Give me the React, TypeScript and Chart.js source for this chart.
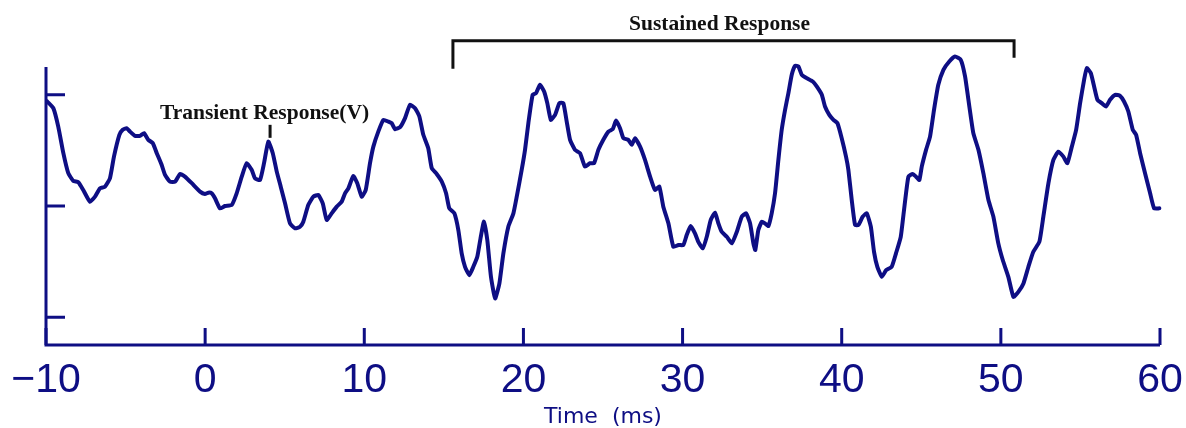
import React, { useEffect, useRef } from "react";
import { Chart, registerables } from "chart.js";

Chart.register(...registerables);

// Evoked response waveform: time in ms, amplitude in arbitrary units
const timeMs = [
  -9.92, -9.54, -9.23, -8.91, -8.6, -8.28, -7.97, -7.66, -7.24, -6.92, -6.61, -6.29, -5.98, -5.73, -5.39,
  -5.18, -4.93, -4.72, -4.41, -4.09, -3.84, -3.57, -3.29, -3.04, -2.73, -2.52, -2.21, -1.89, -1.58, -1.27,
  -0.84, -0.32, -0.01, 0.2, 0.41, 0.62, 0.93, 1.25, 1.67, 1.98, 2.3, 2.61, 2.93, 3.13, 3.45,
  3.7, 3.97, 4.25, 4.5, 4.75, 5.02, 5.33, 5.65, 5.96, 6.17, 6.48, 6.8, 7.11, 7.39, 7.64,
  7.95, 8.27, 8.58, 8.79, 9.0, 9.31, 9.56, 9.84, 10.09, 10.36, 10.57, 10.88, 11.2, 11.51, 11.72,
  11.93, 12.25, 12.56, 12.87, 13.19, 13.46, 13.71, 14.02, 14.24, 14.55, 14.87, 15.14, 15.34, 15.66, 15.91,
  16.12, 16.33, 16.6, 16.85, 17.1, 17.32, 17.52, 17.73, 17.96, 18.22, 18.49, 18.74, 19.05, 19.37, 19.58,
  19.89, 20.1, 20.31, 20.58, 20.79, 21.04, 21.3, 21.5, 21.72, 21.99, 22.26, 22.51, 22.72, 22.93, 23.24,
  23.56, 23.87, 24.19, 24.44, 24.71, 25.02, 25.34, 25.61, 25.82, 26.07, 26.28, 26.59, 26.81, 27.01, 27.33,
  27.64, 27.96, 28.27, 28.54, 28.79, 29.11, 29.42, 29.74, 30.05, 30.26, 30.51, 30.78, 30.99, 31.27, 31.52,
  31.77, 32.04, 32.25, 32.46, 32.78, 33.09, 33.41, 33.72, 33.99, 34.24, 34.45, 34.57, 34.76, 34.98, 35.18,
  35.39, 35.6, 35.81, 36.02, 36.23, 36.44, 36.65, 36.86, 37.07, 37.28, 37.49, 37.8, 38.18, 38.43, 38.75,
  38.95, 39.22, 39.48, 39.73, 40.0, 40.27, 40.42, 40.63, 40.84, 41.05, 41.32, 41.57, 41.83, 42.03, 42.24,
  42.52, 42.79, 43.14, 43.41, 43.71, 43.94, 44.19, 44.46, 44.67, 44.88, 45.03, 45.3, 45.55, 45.8, 46.07,
  46.39, 46.76, 47.12, 47.48, 47.75, 48.02, 48.27, 48.59, 48.9, 49.22, 49.53, 49.84, 50.12, 50.47, 50.79,
  51.1, 51.42, 51.73, 52.04, 52.42, 52.67, 52.99, 53.3, 53.61, 53.93, 54.18, 54.46, 54.73, 54.98, 55.23,
  55.4, 55.65, 55.86, 56.07, 56.34, 56.61, 56.86, 57.18, 57.49, 57.74, 58.01, 58.29, 58.5, 58.75, 59.06,
  59.38, 59.63, 59.96,
];

const amplitude = [
  0.94, 0.88, 0.714, 0.475, 0.295, 0.225, 0.214, 0.144, 0.039, 0.084, 0.159, 0.174, 0.25, 0.444, 0.64,
  0.685, 0.7, 0.669, 0.631, 0.631, 0.655, 0.595, 0.565, 0.475, 0.369, 0.279, 0.219, 0.219, 0.288, 0.264,
  0.205, 0.129, 0.108, 0.12, 0.114, 0.069, -0.021, 0.0, 0.009, 0.114, 0.264, 0.385, 0.324, 0.25, 0.234,
  0.385, 0.579, 0.475, 0.309, 0.174, 0.024, -0.156, -0.201, -0.186, -0.141, 0.009, 0.084, 0.099, 0.024, -0.126,
  -0.066, -0.006, 0.039, 0.114, 0.159, 0.27, 0.205, 0.084, 0.144, 0.385, 0.534, 0.669, 0.775, 0.759, 0.745,
  0.691, 0.709, 0.79, 0.91, 0.88, 0.805, 0.64, 0.52, 0.34, 0.288, 0.219, 0.114, -0.021, -0.066, -0.216,
  -0.426, -0.547, -0.622, -0.547, -0.457, -0.277, -0.141, -0.306, -0.637, -0.832, -0.696, -0.426, -0.186, -0.066, 0.084,
  0.324, 0.505, 0.745, 1.0, 1.015, 1.09, 1.03, 0.925, 0.775, 0.82, 0.925, 0.925, 0.759, 0.595, 0.505,
  0.475, 0.354, 0.385, 0.385, 0.505, 0.595, 0.669, 0.691, 0.768, 0.7, 0.61, 0.595, 0.55, 0.61, 0.534,
  0.414, 0.264, 0.144, 0.174, -0.006, -0.156, -0.367, -0.351, -0.351, -0.261, -0.18, -0.246, -0.322, -0.381, -0.277,
  -0.126, -0.06, -0.156, -0.232, -0.277, -0.336, -0.232, -0.096, -0.066, -0.156, -0.336, -0.396, -0.216, -0.141, -0.156,
  -0.18, -0.066, 0.114, 0.414, 0.685, 0.865, 1.015, 1.18, 1.261, 1.255, 1.18, 1.15, 1.12, 1.075, 1.0,
  0.895, 0.82, 0.775, 0.745, 0.61, 0.444, 0.324, 0.054, -0.171, -0.171, -0.096, -0.066, -0.186, -0.412, -0.547,
  -0.637, -0.577, -0.547, -0.426, -0.277, -0.006, 0.264, 0.288, 0.264, 0.234, 0.354, 0.505, 0.624, 0.865, 1.09,
  1.225, 1.3, 1.345, 1.315, 1.165, 0.895, 0.655, 0.505, 0.295, 0.054, -0.096, -0.336, -0.486, -0.637, -0.817,
  -0.772, -0.696, -0.547, -0.412, -0.322, -0.096, 0.205, 0.414, 0.489, 0.444, 0.385, 0.534, 0.685, 0.925, 1.135,
  1.24, 1.195, 1.075, 0.955, 0.925, 0.895, 0.955, 1.0, 0.991, 0.94, 0.85, 0.685, 0.64, 0.475, 0.295,
  0.114, -0.021, -0.021,
];

const xTicks = [-10, 0, 10, 20, 30, 40, 50, 60];
const yTicks = [-1, 0, 1];
const xTitle = "Time  (ms)";

// Annotations (positions in data units)
const transientLabel = "Transient Response(V)";
const transientLabelAt = { t: 3.73, v: 0.784 };
const transientMarker = { t: 4.08, from: 0.73, to: 0.613 };
const sustainedLabel = "Sustained Response";
const sustainedLabelAt = { t: 32.32, v: 1.586 };
const sustainedBracket = { start: 15.57, end: 50.83, top: 1.486, leftFoot: 1.234, rightFoot: 1.333 };

const NAVY = "#0e0e84";

const fmtTick = (v: number) => (v < 0 ? "\u2212" + Math.abs(v) : String(v));

const axesPlugin = {
  id: "scopeAxes",
  beforeDatasetsDraw(chart: any) {
    const { ctx, chartArea, scales } = chart;
    const { left, right, top, bottom } = chartArea;
    ctx.save();
    ctx.strokeStyle = NAVY;
    ctx.lineWidth = 3;
    ctx.lineCap = "butt";
    // axis lines
    ctx.beginPath();
    ctx.moveTo(left, top);
    ctx.lineTo(left, bottom);
    ctx.lineTo(right, bottom);
    ctx.stroke();
    // inward ticks
    ctx.beginPath();
    for (const t of xTicks) {
      const x = scales.x.getPixelForValue(t);
      ctx.moveTo(x, bottom);
      ctx.lineTo(x, bottom - 17);
    }
    for (const v of yTicks) {
      const y = scales.y.getPixelForValue(v);
      ctx.moveTo(left, y);
      ctx.lineTo(left + 19, y);
    }
    ctx.stroke();
    // tick labels
    ctx.fillStyle = NAVY;
    ctx.font = '41px "Liberation Sans Narrow", "Liberation Sans", Arial, sans-serif';
    ctx.textAlign = "center";
    ctx.textBaseline = "alphabetic";
    for (const t of xTicks) {
      ctx.fillText(fmtTick(t), scales.x.getPixelForValue(t), bottom + 47);
    }
    // axis title
    ctx.font = '22px "DejaVu Sans", sans-serif';
    ctx.fillText(xTitle, (left + right) / 2, bottom + 78);
    ctx.restore();
  },
  afterDatasetsDraw(chart: any) {
    const { ctx, scales } = chart;
    const X = (t: number) => scales.x.getPixelForValue(t);
    const Y = (v: number) => scales.y.getPixelForValue(v);
    ctx.save();
    ctx.fillStyle = "#111";
    ctx.strokeStyle = "#111";
    ctx.textAlign = "center";
    ctx.textBaseline = "alphabetic";
    ctx.font = 'bold 21.5px "Liberation Serif", "Times New Roman", serif';
    ctx.fillText(transientLabel, X(transientLabelAt.t), Y(transientLabelAt.v));
    ctx.fillText(sustainedLabel, X(sustainedLabelAt.t), Y(sustainedLabelAt.v));
    ctx.lineWidth = 3;
    ctx.beginPath();
    ctx.moveTo(X(transientMarker.t), Y(transientMarker.from));
    ctx.lineTo(X(transientMarker.t), Y(transientMarker.to));
    ctx.stroke();
    const b = sustainedBracket;
    ctx.lineJoin = "miter";
    ctx.beginPath();
    ctx.moveTo(X(b.start), Y(b.leftFoot));
    ctx.lineTo(X(b.start), Y(b.top));
    ctx.lineTo(X(b.end), Y(b.top));
    ctx.lineTo(X(b.end), Y(b.rightFoot));
    ctx.stroke();
    ctx.restore();
  },
};

export default function App() {
  const canvasRef = useRef<HTMLCanvasElement | null>(null);

  useEffect(() => {
    if (!canvasRef.current) return;
    const points = timeMs.map((t, i) => ({ x: t, y: amplitude[i] }));
    const chart = new Chart(canvasRef.current, {
      type: "line",
      data: {
        datasets: [
          {
            data: points,
            borderColor: NAVY,
            borderWidth: 4,
            pointRadius: 0,
            tension: 0.15,
            fill: false,
            clip: false as any,
            borderJoinStyle: "round",
            borderCapStyle: "round",
          },
        ],
      },
      options: {
        animation: false,
        responsive: false,
        events: [],
        layout: { padding: { left: 46, top: 67, right: 26, bottom: 83 } },
        scales: {
          x: { type: "linear", min: -10, max: 60, display: false },
          y: { type: "linear", min: -1.25, max: 1.25, display: false },
        },
        plugins: { legend: { display: false }, tooltip: { enabled: false } },
      },
      plugins: [axesPlugin],
    });
    return () => chart.destroy();
  }, []);

  return (
    <div style={{ position: "fixed", left: 0, top: 0, width: 1186, height: 428, background: "#fff" }}>
      <canvas ref={canvasRef} width={1186} height={428} style={{ display: "block" }} />
    </div>
  );
}
